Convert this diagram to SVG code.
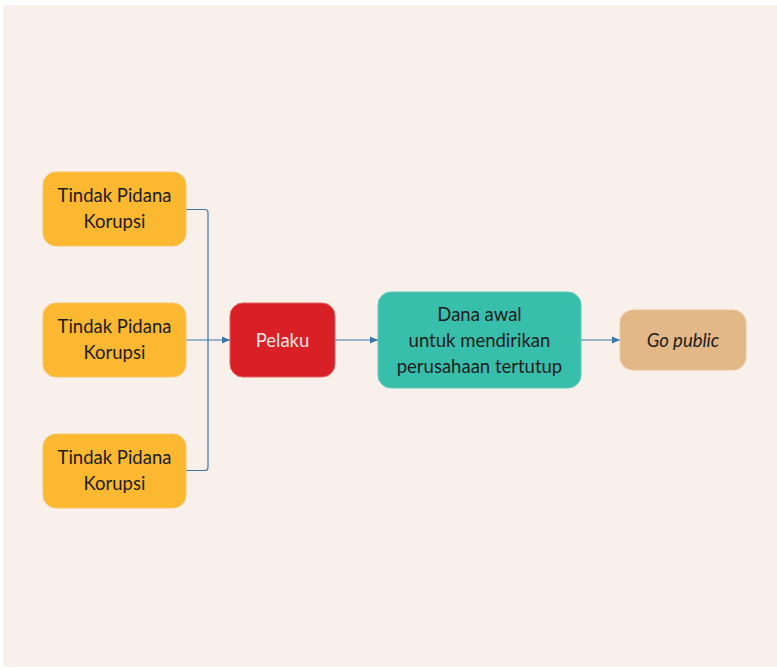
<svg xmlns="http://www.w3.org/2000/svg" width="777" height="670" viewBox="0 0 777 670">
  <style>
    .lbl { font-family: Lato, "Noto Sans", "Liberation Sans", sans-serif; font-size: 18.5px; text-anchor: middle; fill: #1d1d1d; }
    .crime rect { fill: #fbb830; stroke: #f5c66a; stroke-width: 1; }
    .edge { fill: none; stroke: #3a76a6; stroke-width: 1.2; }
  </style>
  <defs>
    <marker id="arrow" markerWidth="10" markerHeight="10" refX="9" refY="5" orient="auto" markerUnits="userSpaceOnUse">
      <path d="M1,1.5 L9,5 L1,8.5 Z" fill="#3a76a6"/>
    </marker>
  </defs>

  <!-- canvas -->
  <rect x="3" y="5" width="774" height="662" fill="#f9f0eb"/>

  <!-- connectors -->
  <g id="connectors">
    <path class="edge" d="M186,209.5 H205 Q208,209.5 208,212.5 V340" />
    <path class="edge" d="M186,470.5 H205 Q208,470.5 208,467.5 V340" />
    <path class="edge" d="M186,340 H230" marker-end="url(#arrow)"/>
    <path class="edge" d="M335,340 H378" marker-end="url(#arrow)"/>
    <path class="edge" d="M581,340 H620" marker-end="url(#arrow)"/>
  </g>

  <!-- source nodes -->
  <g id="korupsi-1" class="crime">
    <rect x="43" y="172" width="143" height="74" rx="13"/>
    <text class="lbl" x="114.5" y="202">Tindak Pidana</text>
    <text class="lbl" x="114.5" y="228">Korupsi</text>
  </g>
  <g id="korupsi-2" class="crime">
    <rect x="43" y="303" width="143" height="74" rx="13"/>
    <text class="lbl" x="114.5" y="333">Tindak Pidana</text>
    <text class="lbl" x="114.5" y="359">Korupsi</text>
  </g>
  <g id="korupsi-3" class="crime">
    <rect x="43" y="434" width="143" height="74" rx="13"/>
    <text class="lbl" x="114.5" y="464">Tindak Pidana</text>
    <text class="lbl" x="114.5" y="490">Korupsi</text>
  </g>

  <!-- actor -->
  <g id="pelaku">
    <rect x="230" y="303" width="105" height="74" rx="13" fill="#d92027" stroke="#e0605f" stroke-width="1"/>
    <text class="lbl" x="282.5" y="347" style="fill:#f6e6e0">Pelaku</text>
  </g>

  <!-- initial capital -->
  <g id="dana-awal">
    <rect x="378" y="292" width="203" height="96" rx="13" fill="#38bfab" stroke="#5cc9b8" stroke-width="1"/>
    <text class="lbl" x="479.5" y="320.5">Dana awal</text>
    <text class="lbl" x="479.5" y="346.5">untuk mendirikan</text>
    <text class="lbl" x="479.5" y="372.5">perusahaan tertutup</text>
  </g>

  <!-- listing -->
  <g id="go-public">
    <rect x="620" y="310" width="126" height="60" rx="13" fill="#e1b886" stroke="#e8c79f" stroke-width="1"/>
    <text class="lbl" x="683" y="347" font-style="italic">Go public</text>
  </g>
</svg>
